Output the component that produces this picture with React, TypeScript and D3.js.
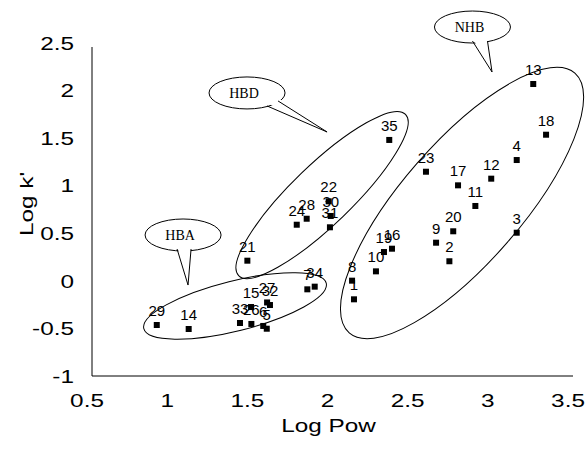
import React from 'react';
import * as d3 from 'd3';

// compound numbers and their values
const ids = [1, 2, 3, 4, 5, 6, 7, 8, 9, 10, 11, 12, 13, 14, 15, 16, 17, 18, 19, 20, 21, 22, 23, 24, 26, 27, 28, 29, 30, 31, 32, 33, 34, 35];
const logPow = [2.134, 2.729, 3.149, 3.149, 1.590, 1.568, 1.843, 2.122, 2.646, 2.271, 2.891, 2.990, 3.252, 1.103, 1.492, 2.371, 2.783, 3.332, 2.321, 2.753, 1.469, 1.976, 2.583, 1.777, 1.494, 1.592, 1.839, 0.904, 1.989, 1.984, 1.610, 1.423, 1.889, 2.354];
const logK = [-0.194, 0.206, 0.506, 1.270, -0.503, -0.474, -0.089, 0.002, 0.401, 0.100, 0.787, 1.074, 2.069, -0.506, -0.275, 0.338, 1.004, 1.536, 0.303, 0.521, 0.212, 0.836, 1.147, 0.590, -0.453, -0.227, 0.653, -0.464, 0.682, 0.563, -0.254, -0.443, -0.061, 1.481];

const xTicks = [0.5, 1, 1.5, 2, 2.5, 3, 3.5];
const yTicks = [-1, -0.5, 0, 0.5, 1, 1.5, 2, 2.5];

// group outlines: centre in data units, radii/angle in px
const groupNames = ['HBA', 'HBD', 'NHB'];
const groupCx = [1.392, 1.935, 2.808];
const groupCy = [-0.264, 0.902, 0.818];
const groupRx = [94, 116, 172];
const groupRy = [25, 30, 60];
const groupAngle = [-14, -44, -49];

// speech bubbles
const bubbleCx = [1.068, 1.467, 2.873];
const bubbleCy = [0.482, 1.975, 2.668];
const tipX = [1.099, 1.966, 2.995];
const tipY = [-0.044, 1.565, 2.195];
const baseOffsets = [
  [[-6, 14], [8, 14]],
  [[20, 13], [31, 8]],
  [[0, 14], [15, 14]],
];

const W = 588;
const H = 458;
const sans = "'Liberation Sans', Arial, sans-serif";
const serif = "'Liberation Serif', 'Times New Roman', serif";
const axisFont = 19;
const stretch = 1.28; // axis text in the original is set wide

export default function App() {
  const x = d3.scaleLinear().domain([0.5, 3.5]).range([92, 573]);
  const y = d3.scaleLinear().domain([-1, 2.5]).range([376, 43]);

  return (
    <div style={{ position: 'absolute', left: 0, top: 0 }}>
      <svg width={W} height={H} style={{ display: 'block', background: '#fff' }}>
        {/* axes */}
        <line x1={x(0.5)} x2={x(0.5)} y1={y(2.5) + 4} y2={y(-1)} stroke="#000" strokeWidth={1} />
        <line x1={x(0.5)} x2={x(3.5)} y1={y(-1)} y2={y(-1)} stroke="#000" strokeWidth={1} />
        {yTicks.map(t => (
          <text key={'y' + t} transform={`translate(${x(0.5) - 18},${y(t)}) scale(${stretch},1)`}
            dy="0.35em" textAnchor="end" fontFamily={sans} fontSize={axisFont}>{t}</text>
        ))}
        {xTicks.map(t => (
          <text key={'x' + t} transform={`translate(${x(t) - 5},407) scale(${stretch},1)`}
            textAnchor="middle" fontFamily={sans} fontSize={axisFont}>{t}</text>
        ))}
        <text transform={`translate(${(x(0.5) + x(3.5)) / 2 - 4},432) scale(${stretch},1)`}
          textAnchor="middle" fontFamily={sans} fontSize={axisFont}>Log Pow</text>
        <text transform={`translate(33,204) rotate(-90) scale(${stretch},1)`} textAnchor="middle"
          fontFamily={sans} fontSize={axisFont}>Log k'</text>

        {/* group ellipses */}
        {groupNames.map((g, i) => (
          <ellipse key={g} cx={0} cy={0} rx={groupRx[i]} ry={groupRy[i]}
            transform={`translate(${x(groupCx[i])},${y(groupCy[i])}) rotate(${groupAngle[i]})`}
            fill="none" stroke="#000" strokeWidth={1} />
        ))}

        {/* points */}
        {ids.map((id, i) => (
          <g key={id}>
            <rect x={x(logPow[i]) - 3} y={y(logK[i]) - 3} width={6} height={6} fill="#000" />
            <text x={x(logPow[i])} y={y(logK[i]) - 9} textAnchor="middle"
              fontFamily={sans} fontSize={15}>{id}</text>
          </g>
        ))}

        {/* callouts */}
        {groupNames.map((g, i) => {
          const cx = x(bubbleCx[i]);
          const cy = y(bubbleCy[i]);
          const tx = x(tipX[i]);
          const ty = y(tipY[i]);
          const [b1, b2] = baseOffsets[i];
          const p1: [number, number] = [cx + b1[0], cy + b1[1]];
          const p2: [number, number] = [cx + b2[0], cy + b2[1]];
          return (
            <g key={'c' + g}>
              <ellipse cx={cx} cy={cy} rx={38} ry={16} fill="#fff" stroke="#000" strokeWidth={1} />
              <path d={`M${p1[0]},${p1[1] - 3}L${tx},${ty}L${p2[0]},${p2[1] - 3}Z`} fill="#fff" stroke="none" />
              <path d={`M${p1[0]},${p1[1]}L${tx},${ty}L${p2[0]},${p2[1]}`} fill="none" stroke="#000" strokeWidth={1} />
              <text x={cx - 3} y={cy + 5} textAnchor="middle" fontFamily={serif} fontSize={14}>{g}</text>
            </g>
          );
        })}
      </svg>
    </div>
  );
}
